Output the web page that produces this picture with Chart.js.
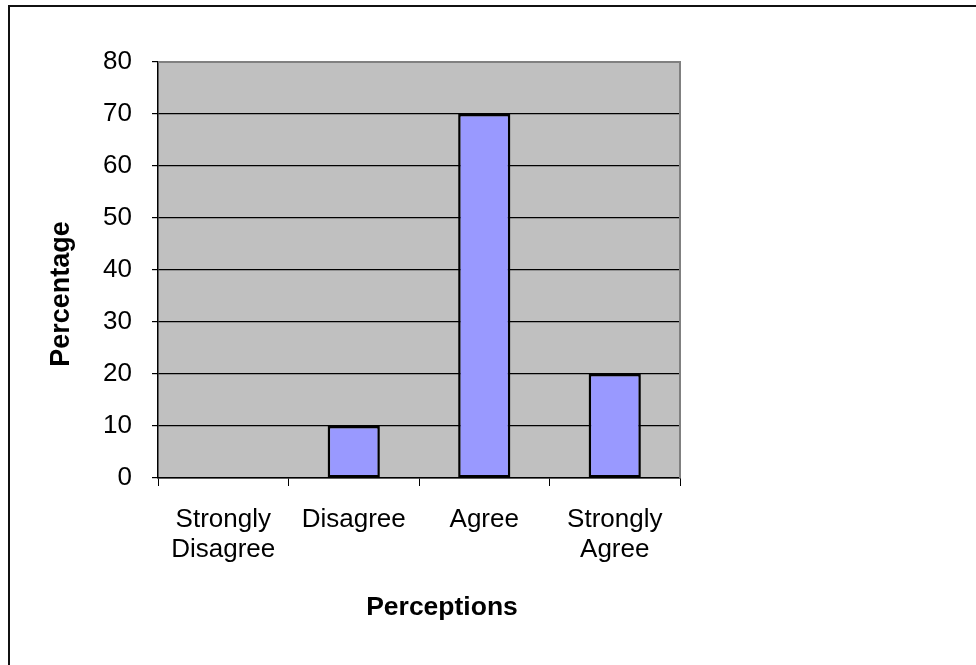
<!DOCTYPE html>
<html>
<head>
<meta charset="utf-8">
<script src="https://cdn.jsdelivr.net/npm/chart.js@4"></script>
<style>
  html, body { margin: 0; padding: 0; background: #fff; overflow: hidden; }
  #wrap { position: relative; width: 976px; height: 665px; }
  #frame { position: absolute; left: 8px; top: 5px; width: 990px; height: 700px;
           border-left: 2px solid #111; border-top: 2px solid #111; box-sizing: border-box; }
  canvas { position: absolute; left: 0; top: 0; }
</style>
</head>
<body>
<div id="wrap">
  <div id="frame"></div>
  <canvas id="c" width="976" height="665"></canvas>
</div>
<script>
const categories = [["Strongly", "Disagree"], "Disagree", "Agree", ["Strongly", "Agree"]];
const percentages = [0, 10, 70, 20];
const yTicks = [0, 10, 20, 30, 40, 50, 60, 70, 80];
const xTitle = "Perceptions";
const yTitle = "Percentage";

const FONT = "'Liberation Sans', Arial, sans-serif";

const plotStyle = {
  id: 'plotStyle',
  beforeDraw(chart) {
    const {ctx, chartArea: a} = chart;
    ctx.save();
    ctx.fillStyle = '#C0C0C0';
    ctx.fillRect(a.left, a.top, a.right - a.left, a.bottom - a.top);
    ctx.restore();
  },
  beforeDatasetsDraw(chart) {
    const {ctx, chartArea: a} = chart;
    ctx.save();
    ctx.strokeStyle = '#808080';
    ctx.lineWidth = 2;
    ctx.beginPath();
    ctx.moveTo(a.left, a.top);
    ctx.lineTo(a.right, a.top);
    ctx.lineTo(a.right, a.bottom);
    ctx.stroke();
    ctx.restore();
  },
  afterDraw(chart) {
    const {ctx, chartArea: a} = chart;
    ctx.save();
    ctx.fillStyle = '#000';
    ctx.font = "bold 26.5px " + FONT;
    ctx.textAlign = 'center';
    ctx.textBaseline = 'middle';
    ctx.fillText(xTitle, (a.left + a.right) / 2 + 23, a.bottom + 130);
    ctx.font = "bold 27px " + FONT;
    ctx.translate(a.left - 96, (a.top + a.bottom) / 2 + 24);
    ctx.rotate(-Math.PI / 2);
    ctx.fillText(yTitle, 0, 0);
    ctx.restore();
  }
};

new Chart(document.getElementById('c'), {
  type: 'bar',
  data: {
    labels: categories,
    datasets: [{
      data: percentages,
      backgroundColor: '#9999FF',
      borderColor: '#000000',
      borderWidth: 2.5,
      borderSkipped: false,
      categoryPercentage: 1.0,
      barPercentage: 0.4
    }]
  },
  options: {
    responsive: false,
    animation: false,
    devicePixelRatio: 1,
    layout: { padding: { left: 0, top: 62, right: 296, bottom: 0 } },
    plugins: { legend: { display: false }, tooltip: { enabled: false }, title: { display: false } },
    scales: {
      x: {
        afterFit(s) { s.height = 187; },
        grid: { display: true, drawOnChartArea: false, drawTicks: true, tickLength: 8, color: '#000', lineWidth: 1, offset: true },
        border: { display: true, color: '#000', width: 1.5 },
        ticks: { color: '#000', font: { family: FONT, size: 26, lineHeight: 1.15 }, padding: 19, maxRotation: 0, autoSkip: false }
      },
      y: {
        min: 0, max: 80,
        afterFit(s) { s.width = 158; },
        afterBuildTicks(s) { s.ticks = yTicks.map(v => ({ value: v })); },
        grid: { color: '#000', lineWidth: 1.2, drawTicks: true, tickLength: 6 },
        border: { display: true, color: '#000', width: 1.5 },
        ticks: { color: '#000', font: { family: FONT, size: 26 }, padding: 20 }
      }
    }
  },
  plugins: [plotStyle]
});
</script>
</body>
</html>
